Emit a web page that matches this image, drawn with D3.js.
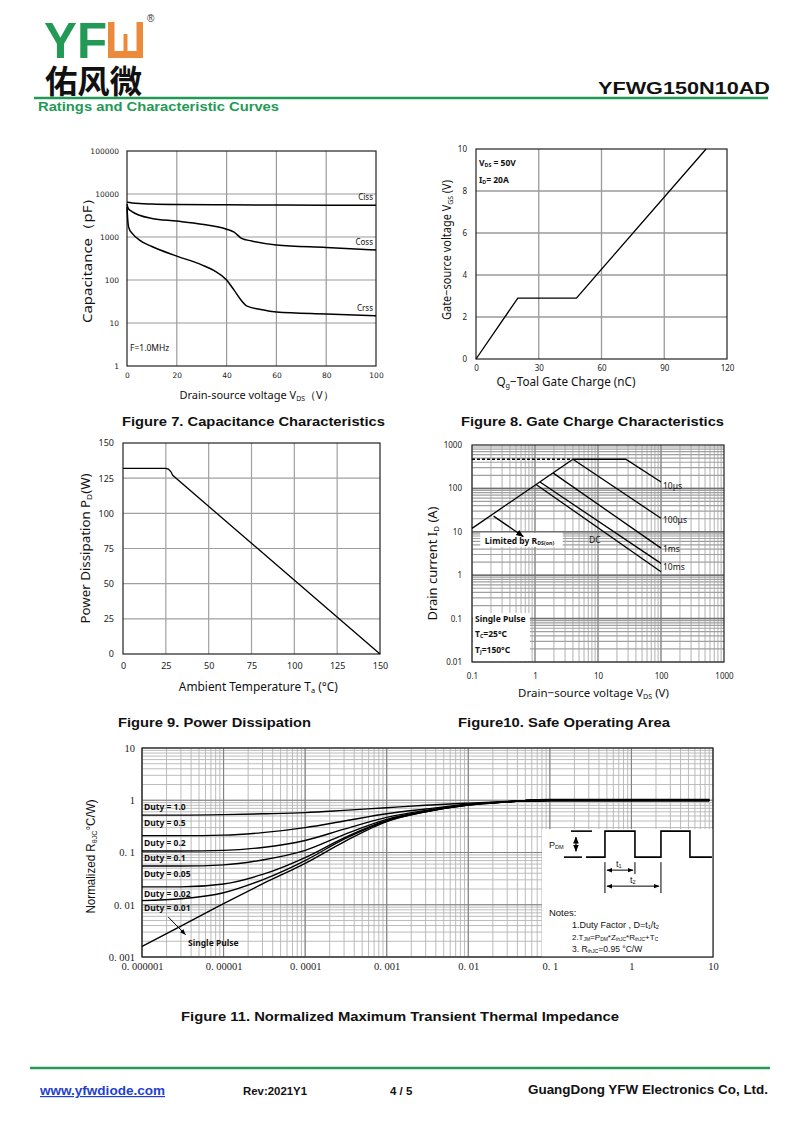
<!DOCTYPE html>
<html>
<head>
<meta charset="utf-8">
<script src="https://cdn.jsdelivr.net/npm/d3@7"></script>
<style>
  body { margin: 0; background: #fff; }
  svg { display: block; }
</style>
</head>
<body>
<svg id="page" width="800" height="1130"></svg>
<script>
// ---------------- data ----------------

// Figure 7 - capacitance vs drain-source voltage
var cissV  = [0, 2, 5, 10, 20, 40, 60, 80, 100];
var cissPF = [6400, 6200, 6000, 5850, 5700, 5600, 5550, 5500, 5450];
var cossV  = [0, 0.5, 2, 5, 10, 20, 30, 40, 43, 46, 50, 60, 80, 100];
var cossPF = [5800, 4600, 3900, 3200, 2700, 2350, 1990, 1520, 1300, 930, 810, 650, 570, 500];
var crssV  = [0, 0.3, 0.5, 1, 2, 5, 10, 20, 30, 35, 40, 43, 46, 48, 55, 60, 80, 100];
var crssPF = [5000, 2500, 1900, 1500, 1230, 850, 600, 360, 225, 165, 100, 58, 33, 25, 20, 18, 16.2, 14.8];
var capXTicks = [0, 20, 40, 60, 80, 100];
var capYTicks = [1, 10, 100, 1000, 10000, 100000];

// Figure 8 - gate charge
var gateQ = [0, 20, 48, 110];
var gateV = [0, 2.9, 2.9, 10];
var gateXTicks = [0, 30, 60, 90, 120];
var gateYTicks = [0, 2, 4, 6, 8, 10];

// Figure 9 - power dissipation
var tempC  = [0, 25, 26.5, 28, 29, 150];
var powerW = [132, 132, 131.5, 129.5, 127, 0];
var pdTicks = [0, 25, 50, 75, 100, 125, 150];

// Figure 10 - safe operating area (V, A)
var soaRdsV   = [0.1, 4];      var soaRdsI   = [12, 470];
var soaDashV  = [0.1, 4];      var soaDashI  = [470, 470];
var soa10usV  = [4, 27.6, 100]; var soa10usI = [470, 470, 141];
var soa100usV = [4, 100];      var soa100usI = [470, 20.5];
var soa1msV   = [1.95, 100];   var soa1msI   = [225, 4.2];
var soa10msV  = [1.2, 100];    var soa10msI  = [140, 1.87];
var soaDcV    = [1.04, 100];   var soaDcI    = [123, 1.2];
var soaArrowV = [0.22, 0.65];  var soaArrowI = [23, 7.8];
var soaXTicks = [0.1, 1, 10, 100, 1000];
var soaYTicks = [0.01, 0.1, 1, 10, 100, 1000];

// Figure 11 - normalized transient thermal impedance
var pulseT  = [1e-6, 3e-6, 1e-5, 3e-5, 1e-4, 3e-4, 1e-3, 3e-3, 1e-2, 3e-2, 5e-2, 0.1, 1, 9];
var duty05  = [0.52, 0.52, 0.53, 0.55, 0.58, 0.64, 0.72, 0.80, 0.88, 0.95, 0.98, 1, 1, 1];
var duty02  = [0.21, 0.21, 0.215, 0.24, 0.30, 0.40, 0.55, 0.68, 0.84, 0.94, 0.98, 1, 1, 1];
var duty01  = [0.107, 0.107, 0.11, 0.125, 0.17, 0.28, 0.47, 0.64, 0.83, 0.94, 0.98, 1, 1, 1];
var duty005 = [0.055, 0.055, 0.058, 0.072, 0.11, 0.22, 0.43, 0.62, 0.82, 0.93, 0.98, 1, 1, 1];
var duty002 = [0.022, 0.022, 0.025, 0.038, 0.08, 0.19, 0.41, 0.61, 0.82, 0.93, 0.98, 1, 1, 1];
var duty001 = [0.012, 0.013, 0.017, 0.03, 0.07, 0.18, 0.40, 0.60, 0.81, 0.93, 0.98, 1, 1, 1];
var single  = [0.0016, 0.0039, 0.0105, 0.025, 0.062, 0.16, 0.39, 0.60, 0.81, 0.93, 0.98, 1, 1, 1];
var dutyLabels = ["Duty = 1.0", "Duty = 0.5", "Duty = 0.2", "Duty = 0.1", "Duty = 0.05", "Duty = 0.02", "Duty = 0.01"];
var thXTicks = [1e-6, 1e-5, 1e-4, 1e-3, 1e-2, 0.1, 1, 10];
var thXLabels = ["0. 000001", "0. 00001", "0. 0001", "0. 001", "0. 01", "0. 1", "1", "10"];
var thYTicks = [0.001, 0.01, 0.1, 1, 10];
var thYLabels = ["0. 001", "0. 01", "0. 1", "1", "10"];

// ---------------- helpers ----------------
var svg = d3.select("#page");
var GREEN = "#229a55";
var SANS = "'Liberation Sans', Arial, sans-serif";
var LABEL = "'Noto Sans', 'Open Sans', sans-serif";

var defs = svg.append("defs");
defs.append("marker")
    .attr("id", "arrow")
    .attr("viewBox", "0 0 10 10")
    .attr("refX", 9).attr("refY", 5)
    .attr("markerWidth", 6).attr("markerHeight", 6)
    .attr("orient", "auto-start-reverse")
    .append("path")
    .attr("d", "M0,1 L10,5 L0,9 z")
    .attr("fill", "#000");

function panel(left, top) {
    return svg.append("g").attr("transform", "translate(" + left + "," + top + ")");
}

// minor log ticks 1..9 per decade
function logGrid(lo, hi) {
    var t = [];
    for (var e = lo; e < hi; e++) {
        for (var m = 1; m < 10; m++) t.push(m * Math.pow(10, e));
    }
    return t;
}

function vLines(g, x, values, h, color, width) {
    g.append("g").selectAll("line").data(values).enter().append("line")
        .attr("x1", function(d) { return x(d); })
        .attr("x2", function(d) { return x(d); })
        .attr("y1", 0).attr("y2", h)
        .attr("stroke", color).attr("stroke-width", width);
}

function hLines(g, y, values, w, color, width) {
    g.append("g").selectAll("line").data(values).enter().append("line")
        .attr("y1", function(d) { return y(d); })
        .attr("y2", function(d) { return y(d); })
        .attr("x1", 0).attr("x2", w)
        .attr("stroke", color).attr("stroke-width", width);
}

function frame(g, w, h) {
    g.append("rect").attr("width", w).attr("height", h)
        .attr("fill", "none").attr("stroke", "#222").attr("stroke-width", 1.2);
}

function axes(g, x, y, h, opt) {
    var ax = g.append("g")
        .attr("transform", "translate(0," + h + ")")
        .call(d3.axisBottom(x).tickValues(opt.xTicks).tickFormat(opt.xFormat).tickSize(0).tickPadding(opt.xPad));
    ax.select(".domain").remove();
    ax.selectAll("text").attr("font-family", opt.font).attr("font-size", opt.size).attr("fill", "#222");

    var ay = g.append("g")
        .call(d3.axisLeft(y).tickValues(opt.yTicks).tickFormat(opt.yFormat).tickSize(0).tickPadding(opt.yPad));
    ay.select(".domain").remove();
    ay.selectAll("text").attr("font-family", opt.font).attr("font-size", opt.size).attr("fill", "#222");
}

function curve(g, x, y, xs, ys, width, smooth) {
    var line = d3.line()
        .x(function(d) { return x(d[0]); })
        .y(function(d) { return y(d[1]); });
    if (smooth) line.curve(d3.curveMonotoneX);
    return g.append("path")
        .attr("d", line(d3.zip(xs, ys)))
        .attr("fill", "none").attr("stroke", "#000").attr("stroke-width", width);
}

// parts alternate: normal, subscript, normal, subscript ...
function richText(parent, parts, size, font) {
    var t = parent.append("text").attr("font-family", font).attr("font-size", size).attr("fill", "#111");
    parts.forEach(function(p, i) {
        if (i % 2 === 1) {
            t.append("tspan").attr("font-size", size * 0.62).attr("baseline-shift", "-22%").text(p);
        } else {
            t.append("tspan").text(p);
        }
    });
    return t;
}

function caption(text, x, y, len) {
    svg.append("text")
        .attr("x", x).attr("y", y)
        .attr("font-family", SANS).attr("font-weight", "bold").attr("font-size", 13.5)
        .attr("textLength", len).attr("lengthAdjust", "spacingAndGlyphs")
        .attr("fill", "#111")
        .text(text);
}

// ---------------- header ----------------
svg.append("text").attr("x", 44).attr("y", 58)
    .attr("font-family", SANS).attr("font-weight", "bold").attr("font-size", 50)
    .attr("fill", GREEN).attr("textLength", 63).attr("lengthAdjust", "spacingAndGlyphs")
    .text("YF");
svg.append("rect").attr("x", 108).attr("y", 22).attr("width", 35).attr("height", 36).attr("fill", "#ec8a3c");
svg.append("rect").attr("x", 114.5).attr("y", 22).attr("width", 22).attr("height", 29).attr("fill", "#fff");
svg.append("rect").attr("x", 123.5).attr("y", 34).attr("width", 4).attr("height", 18).attr("fill", "#ec8a3c");
svg.append("text").attr("x", 147).attr("y", 22)
    .attr("font-family", SANS).attr("font-size", 10).attr("fill", "#333").text("®");
svg.append("text").attr("x", 45).attr("y", 93)
    .attr("font-family", "'Noto Sans CJK SC', sans-serif").attr("font-weight", "bold").attr("font-size", 32)
    .attr("textLength", 97).attr("lengthAdjust", "spacingAndGlyphs")
    .attr("fill", "#111").text("佑风微");
svg.append("text").attr("x", 770).attr("y", 94).attr("text-anchor", "end")
    .attr("font-family", SANS).attr("font-weight", "bold").attr("font-size", 17)
    .attr("textLength", 172).attr("lengthAdjust", "spacingAndGlyphs")
    .attr("fill", "#111").text("YFWG150N10AD");
svg.append("line").attr("x1", 34).attr("x2", 768).attr("y1", 98).attr("y2", 98)
    .attr("stroke", GREEN).attr("stroke-width", 2.5);
svg.append("text").attr("x", 38).attr("y", 111)
    .attr("font-family", SANS).attr("font-weight", "bold").attr("font-size", 12.5)
    .attr("textLength", 241).attr("lengthAdjust", "spacingAndGlyphs")
    .attr("fill", GREEN).text("Ratings and Characteristic Curves");

// ---------------- Figure 7 ----------------
(function() {
    var w = 249, h = 215;
    var g = panel(127, 151);
    var x = d3.scaleLinear().domain([0, 100]).range([0, w]);
    var y = d3.scaleLog().domain([1, 100000]).range([h, 0]);
    vLines(g, x, [20, 40, 60, 80], h, "#9a9a9a", 1.2);
    hLines(g, y, [10, 100, 1000, 10000], w, "#9a9a9a", 1.2);
    frame(g, w, h);
    axes(g, x, y, h, {
        xTicks: capXTicks, xFormat: d3.format("d"), xPad: 7,
        yTicks: capYTicks, yFormat: d3.format("d"), yPad: 8,
        font: "'DejaVu Sans', sans-serif", size: 7.5
    });
    curve(g, x, y, cissV, cissPF, 1.5, true);
    curve(g, x, y, cossV, cossPF, 1.5, true);
    curve(g, x, y, crssV, crssPF, 1.5, true);

    [["Ciss", 5500], ["Coss", 500], ["Crss", 14.8]].forEach(function(d) {
        g.append("text").attr("x", w - 3).attr("y", y(d[1]) - 5).attr("text-anchor", "end")
            .attr("font-family", LABEL).attr("font-size", 8).attr("fill", "#111").text(d[0]);
    });
    g.append("text").attr("x", 3).attr("y", y(2.2))
        .attr("font-family", LABEL).attr("font-size", 8.5).attr("fill", "#111").text("F=1.0MHz");

    richText(g, ["Drain-source voltage V", "DS", "（V）"], 11, LABEL)
        .attr("x", x(52)).attr("y", h + 33).attr("text-anchor", "middle");
    g.append("text").attr("transform", "translate(-35," + (h / 2 - 2) + ") rotate(-90)")
        .attr("text-anchor", "middle").attr("font-family", LABEL).attr("font-size", 12.5)
        .attr("textLength", 133).attr("lengthAdjust", "spacingAndGlyphs")
        .attr("fill", "#111").text("Capacitance（pF）");
})();
caption("Figure 7. Capacitance Characteristics", 122, 426, 263);

// ---------------- Figure 8 ----------------
(function() {
    var w = 251, h = 210;
    var g = panel(476, 149);
    var x = d3.scaleLinear().domain([0, 120]).range([0, w]);
    var y = d3.scaleLinear().domain([0, 10]).range([h, 0]);
    vLines(g, x, [30, 60, 90], h, "#9a9a9a", 1.3);
    hLines(g, y, [2, 4, 6, 8], w, "#9a9a9a", 1.3);
    frame(g, w, h);
    axes(g, x, y, h, {
        xTicks: gateXTicks, xFormat: d3.format("d"), xPad: 6,
        yTicks: gateYTicks, yFormat: d3.format("d"), yPad: 9,
        font: LABEL, size: 8
    });
    curve(g, x, y, gateQ, gateV, 1.3, false);

    richText(g, ["V", "DS", " = 50V"], 8.5, LABEL).attr("x", 3).attr("y", 17).attr("font-weight", "bold");
    richText(g, ["I", "D", "= 20A"], 8.5, LABEL).attr("x", 3).attr("y", 34).attr("font-weight", "bold");

    richText(g, ["Q", "g", "−Toal Gate Charge  (nC)"], 12, LABEL)
        .attr("x", x(43)).attr("y", h + 27).attr("text-anchor", "middle")
        .attr("textLength", 139).attr("lengthAdjust", "spacingAndGlyphs");
    richText(g, ["Gate−source voltage V", "GS", " (V)"], 12, LABEL)
        .attr("transform", "translate(-25," + (h / 2 - 4) + ") rotate(-90)")
        .attr("text-anchor", "middle")
        .attr("textLength", 140).attr("lengthAdjust", "spacingAndGlyphs");
})();
caption("Figure 8. Gate Charge Characteristics", 461, 426, 263);

// ---------------- Figure 9 ----------------
(function() {
    var w = 257, h = 211;
    var g = panel(123, 443);
    var x = d3.scaleLinear().domain([0, 150]).range([0, w]);
    var y = d3.scaleLinear().domain([0, 150]).range([h, 0]);
    vLines(g, x, [25, 50, 75, 100, 125], h, "#a0a0a0", 1.2);
    hLines(g, y, [25, 50, 75, 100, 125], w, "#a0a0a0", 1.2);
    frame(g, w, h);
    axes(g, x, y, h, {
        xTicks: pdTicks, xFormat: d3.format("d"), xPad: 9,
        yTicks: pdTicks, yFormat: d3.format("d"), yPad: 9,
        font: LABEL, size: 9
    });
    curve(g, x, y, tempC, powerW, 1.3, false);

    richText(g, ["Ambient Temperature T", "a", " (°C)"], 12, LABEL)
        .attr("x", x(79)).attr("y", h + 37).attr("text-anchor", "middle")
        .attr("textLength", 159).attr("lengthAdjust", "spacingAndGlyphs");
    richText(g, ["Power Dissipation P", "D", "(W)"], 12, LABEL)
        .attr("transform", "translate(-33," + (h / 2) + ") rotate(-90)")
        .attr("text-anchor", "middle")
        .attr("textLength", 150).attr("lengthAdjust", "spacingAndGlyphs");
})();
caption("Figure 9. Power Dissipation", 118, 727, 193);

// ---------------- Figure 10 ----------------
(function() {
    var w = 252, h = 217;
    var g = panel(472, 445);
    var x = d3.scaleLog().domain([0.1, 1000]).range([0, w]);
    var y = d3.scaleLog().domain([0.01, 1000]).range([h, 0]);
    vLines(g, x, logGrid(-1, 3), h, "#a8a8a8", 0.9);
    hLines(g, y, logGrid(-2, 3), w, "#a0a0a0", 1.2);
    vLines(g, x, [1, 10, 100], h, "#888", 1.2);
    hLines(g, y, [0.1, 1, 10, 100], w, "#707070", 1.5);

    // white areas behind the notes
    g.append("rect").attr("x", 1).attr("y", y(0.135))
        .attr("width", x(0.83) - 1).attr("height", h - y(0.135) - 1).attr("fill", "#fff");
    g.append("rect").attr("x", x(0.135)).attr("y", y(9.5))
        .attr("width", x(2.75) - x(0.135)).attr("height", y(4.5) - y(9.5)).attr("fill", "#fff");
    frame(g, w, h);
    axes(g, x, y, h, {
        xTicks: soaXTicks, xFormat: function(d) { return String(d); }, xPad: 11,
        yTicks: soaYTicks, yFormat: function(d) { return String(d); }, yPad: 10,
        font: LABEL, size: 8
    });

    curve(g, x, y, soaDashV, soaDashI, 1.3, false).attr("stroke-dasharray", "3,2");
    curve(g, x, y, soaRdsV, soaRdsI, 1.3, false);
    curve(g, x, y, soa10usV, soa10usI, 1.3, false);
    curve(g, x, y, soa100usV, soa100usI, 1.3, false);
    curve(g, x, y, soa1msV, soa1msI, 1.3, false);
    curve(g, x, y, soa10msV, soa10msI, 1.3, false);
    curve(g, x, y, soaDcV, soaDcI, 1.3, false);
    curve(g, x, y, soaArrowV, soaArrowI, 1.3, false).attr("marker-end", "url(#arrow)");

    [["10μs", 141, 7], ["100μs", 20.5, 5], ["1ms", 4.2, 4], ["10ms", 1.87, 7]].forEach(function(d) {
        g.append("text").attr("x", x(100) + 2).attr("y", y(d[1]) + d[2])
            .attr("font-family", LABEL).attr("font-size", 8.5).attr("fill", "#111").text(d[0]);
    });
    g.append("text").attr("x", x(7.2)).attr("y", y(5.6))
        .attr("font-family", LABEL).attr("font-size", 8.5).attr("fill", "#111").text("DC");
    richText(g, ["Limited by R", "DS(on)"], 8.5, LABEL)
        .attr("x", x(0.16)).attr("y", y(5.3)).attr("font-weight", "bold");

    var notes = [["Single Pulse"], ["T", "C", "=25°C"], ["T", "J", "=150°C"]];
    notes.forEach(function(parts, i) {
        richText(g, parts, 8.5, LABEL).attr("x", 3).attr("y", y(0.1) + 3 + i * 15.5).attr("font-weight", "bold");
    });

    richText(g, ["Drain−source voltage V", "DS", " (V)"], 11.5, LABEL)
        .attr("x", x(8.5)).attr("y", h + 35).attr("text-anchor", "middle");
    richText(g, ["Drain current I", "D", " (A)"], 12, LABEL)
        .attr("transform", "translate(-35," + (h / 2 + 10) + ") rotate(-90)")
        .attr("text-anchor", "middle")
        .attr("textLength", 114).attr("lengthAdjust", "spacingAndGlyphs");
})();
caption("Figure10. Safe Operating Area", 458, 727, 212);

// ---------------- Figure 11 ----------------
(function() {
    var w = 571, h = 209;
    var g = panel(142, 748);
    var x = d3.scaleLog().domain([1e-6, 10]).range([0, w]);
    var y = d3.scaleLog().domain([0.001, 10]).range([h, 0]);
    vLines(g, x, logGrid(-6, 1), h, "#b4b4b4", 0.9);
    hLines(g, y, logGrid(-3, 1), w, "#b4b4b4", 0.9);
    vLines(g, x, thXTicks, h, "#808080", 1.1);
    hLines(g, y, thYTicks, w, "#808080", 1.1);

    // white panel for the pulse diagram and notes
    var bx = x(0.08), by = y(0.28);
    g.append("rect").attr("x", bx).attr("y", by).attr("width", w - bx).attr("height", h - by).attr("fill", "#fff");
    frame(g, w, h);
    axes(g, x, y, h, {
        xTicks: thXTicks, xFormat: function(d, i) { return thXLabels[i]; }, xPad: 6,
        yTicks: thYTicks, yFormat: function(d, i) { return thYLabels[i]; }, yPad: 7,
        font: "'Liberation Serif', 'DejaVu Serif', serif", size: 10.5
    });

    [duty05, duty02, duty01, duty005, duty002, duty001, single].forEach(function(s) {
        curve(g, x, y, pulseT, s, 1.4, true);
    });
    curve(g, x, y, pulseT.slice(10), duty05.slice(10), 2.8, false);

    var labelY = [807, 823, 843, 858, 874, 894, 908];
    dutyLabels.forEach(function(s, i) {
        g.append("text").attr("x", 2).attr("y", labelY[i] - 748 + 3)
            .attr("font-family", LABEL).attr("font-weight", "bold").attr("font-size", 8.5)
            .attr("fill", "#111").text(s);
    });
    g.append("line").attr("x1", x(2.1e-6)).attr("y1", y(0.0058)).attr("x2", x(3.4e-6)).attr("y2", y(0.0027))
        .attr("stroke", "#000").attr("stroke-width", 1).attr("marker-end", "url(#arrow)");
    g.append("text").attr("x", 46).attr("y", 198)
        .attr("font-family", LABEL).attr("font-weight", "bold").attr("font-size", 8.5)
        .attr("fill", "#111").text("Single Pulse");

    // pulse diagram (schematic)
    var d = g.append("g").attr("transform", "translate(" + bx + "," + by + ")")
        .attr("stroke", "#000").attr("fill", "none").attr("stroke-width", 1.6);
    d.append("line").attr("x1", 29).attr("x2", 50).attr("y1", 2).attr("y2", 2);
    d.append("line").attr("x1", 22).attr("x2", 40).attr("y1", 28).attr("y2", 28);
    d.append("line").attr("x1", 34).attr("x2", 34).attr("y1", 8).attr("y2", 22)
        .attr("marker-start", "url(#arrow)").attr("marker-end", "url(#arrow)").attr("stroke-width", 1.2);
    d.append("path").attr("d", "M44,28 H63 V2 H93 V28 H119 V2 H148 V28 H170");
    d.append("line").attr("x1", 63).attr("x2", 63).attr("y1", 33).attr("y2", 64).attr("stroke-width", 1);
    d.append("line").attr("x1", 93).attr("x2", 93).attr("y1", 33).attr("y2", 45).attr("stroke-width", 1);
    d.append("line").attr("x1", 119).attr("x2", 119).attr("y1", 33).attr("y2", 64).attr("stroke-width", 1);
    d.append("line").attr("x1", 65).attr("x2", 91).attr("y1", 41).attr("y2", 41)
        .attr("marker-start", "url(#arrow)").attr("marker-end", "url(#arrow)").attr("stroke-width", 1);
    d.append("line").attr("x1", 65).attr("x2", 117).attr("y1", 57).attr("y2", 57)
        .attr("marker-start", "url(#arrow)").attr("marker-end", "url(#arrow)").attr("stroke-width", 1);

    var n = g.append("g").attr("transform", "translate(" + bx + "," + by + ")");
    richText(n, ["P", "DM"], 9, SANS).attr("x", 7).attr("y", 19);
    richText(n, ["t", "1"], 9, SANS).attr("x", 74).attr("y", 38);
    richText(n, ["t", "2"], 9, SANS).attr("x", 88).attr("y", 54);
    n.append("text").attr("x", 7).attr("y", 87).attr("font-family", SANS).attr("font-size", 9.5)
        .attr("fill", "#111").text("Notes:");
    richText(n, ["1.Duty Factor , D=t", "1", "/t", "2"], 9, SANS).attr("x", 30).attr("y", 99);
    richText(n, ["2.T", "JM", "=P", "DM", "*Z", "thJC", "*R", "thJC", "+T", "C"], 8, SANS)
        .attr("x", 30).attr("y", 111);
    richText(n, ["3. R", "thJC", "=0.95 °C/W"], 8.5, SANS).attr("x", 30).attr("y", 123);

    richText(g, ["Normalized R", "θJC", "°C/W)"], 12.5, SANS)
        .attr("transform", "translate(-47," + (h / 2 + 4) + ") rotate(-90)")
        .attr("text-anchor", "middle")
        .attr("textLength", 114).attr("lengthAdjust", "spacingAndGlyphs");
})();
caption("Figure 11. Normalized Maximum Transient Thermal Impedance", 181, 1021, 438);

// ---------------- footer ----------------
svg.append("line").attr("x1", 30).attr("x2", 770).attr("y1", 1068).attr("y2", 1068)
    .attr("stroke", GREEN).attr("stroke-width", 2.5);
svg.append("text").attr("x", 40).attr("y", 1095)
    .attr("font-family", SANS).attr("font-weight", "bold").attr("font-size", 12)
    .attr("textLength", 125).attr("lengthAdjust", "spacingAndGlyphs")
    .attr("fill", "#1f3fcf").attr("text-decoration", "underline").text("www.yfwdiode.com");
svg.append("text").attr("x", 243).attr("y", 1095)
    .attr("font-family", SANS).attr("font-weight", "bold").attr("font-size", 11.5)
    .attr("textLength", 64).attr("lengthAdjust", "spacingAndGlyphs")
    .attr("fill", "#111").text("Rev:2021Y1");
svg.append("text").attr("x", 390).attr("y", 1095)
    .attr("font-family", SANS).attr("font-weight", "bold").attr("font-size", 11.5)
    .attr("fill", "#111").text("4 / 5");
svg.append("text").attr("x", 768).attr("y", 1094).attr("text-anchor", "end")
    .attr("font-family", SANS).attr("font-weight", "bold").attr("font-size", 12.5)
    .attr("textLength", 240).attr("lengthAdjust", "spacingAndGlyphs")
    .attr("fill", "#111").text("GuangDong YFW Electronics Co, Ltd.");
</script>
</body>
</html>
